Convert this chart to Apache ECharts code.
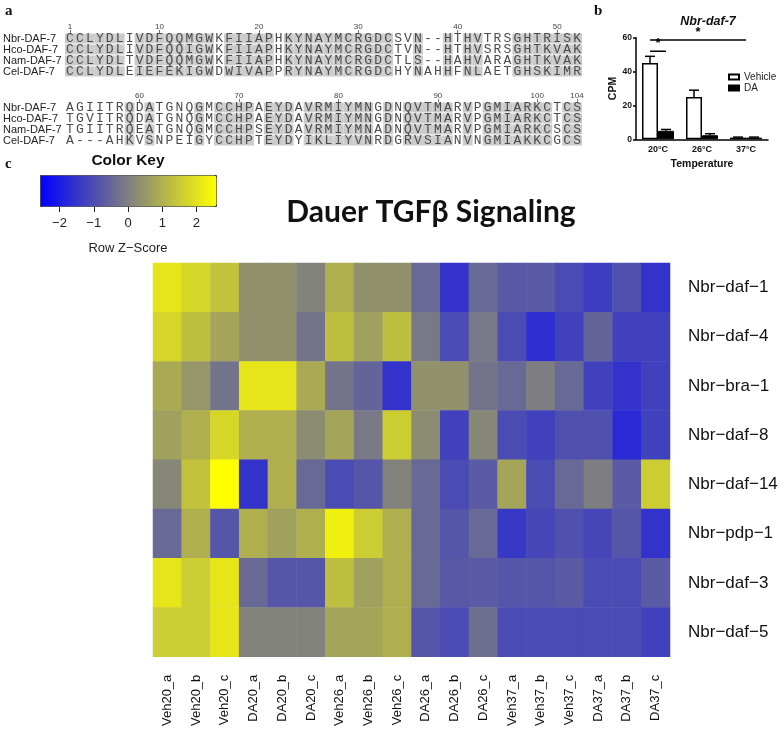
<!DOCTYPE html>
<html><head><meta charset="utf-8">
<script src="https://cdn.jsdelivr.net/npm/echarts@6/dist/echarts.min.js"></script>
<style>html,body{margin:0;padding:0;background:#fff}#c{width:784px;height:729px}</style>
</head><body><div id="c"></div>
<script>
// ---------- Panel a: alignment ----------
const alignNames = ['Nbr-DAF-7', 'Hco-DAF-7', 'Nam-DAF-7', 'Cel-DAF-7'];
const block1Seqs = [
  'CCLYDLIVDFQQMGWKFIIAPHKYNAYMCRGDCSVN--HTHVTRSGHTRISK',
  'CCLYDLIVDFQQIGWKFIIAPHKYNAYMCRGDCTVN--HTHVSRSGHTKVAK',
  'CCLYDLTVDFQQMGWKFIIAPHKYNAYMCRGDCTLS--HAHVARAGHTKVAK',
  'CCLYDLEIEFEKIGWDWIVAPPRYNAYMCRGDCHYNAHHFNLAETGHSKIMR'
];
const block2Seqs = [
  'AGIITRQDATGNQGMCCHPAEYDAVRMIYMNGDNQVTMARVPGMIARKCTCS',
  'TGVITRQDATGNQGMCCHPAEYDAVRMIYMNGDNQVTMARVPGMIARKCTCS',
  'TGIITRQEATGNQGMCCHPSEYDAVRMIYMNADNQVTMARVPGMIARKCSCS',
  'A---AHKVSNPEIGYCCHPTEYDYIKLIYVNRDGRVSIANVNGMIAKKCGCS'
];
const block1Shade = '111111' + '0' + '11111111' + '0' + '11111' + '0' + '11111111111' + '00' + '1' + '00' + '1' + '0' + '11' + '000' + '1111111';
const block2Shade = '000000' + '1' + '0' + '1' + '0000' + '1' + '0' + '1111' + '0' + '111' + '0' + '1111111' + '0' + '1' + '0' + '11111' + '0' + '1' + '0' + '1111111' + '0' + '11';
const block1Start = 1;
const block2Start = 53;
const block1Ticks = ['1', '10', '20', '30', '40', '50'];
const block2Ticks = ['60', '70', '80', '90', '100', '104'];

// ---------- Panel b: bar chart ----------
const tempLabels = ['20\u00B0C', '26\u00B0C', '37\u00B0C'];
const vehicleMean = [45, 25, 1.0];
const vehicleUpper = [49, 29, 1.3];
const daMean = [5, 2.4, 1.0];
const daUpper = [5.8, 3.3, 1.3];
const sigStartCat = [0, 0];
const sigStartSide = [-1, -1];
const sigEndCat = [0, 2];
const sigEndSide = [1, 0];
const sigY = [52, 58.6];

// ---------- Panel c: heatmap ----------
const sampleNames = ['Veh20_a','Veh20_b','Veh20_c','DA20_a','DA20_b','DA20_c','Veh26_a','Veh26_b','Veh26_c','DA26_a','DA26_b','DA26_c','Veh37_a','Veh37_b','Veh37_c','DA37_a','DA37_b','DA37_c'];
const geneNames = ['Nbr\u2212daf\u22121','Nbr\u2212daf\u22124','Nbr\u2212bra\u22121','Nbr\u2212daf\u22128','Nbr\u2212daf\u221214','Nbr\u2212pdp\u22121','Nbr\u2212daf\u22123','Nbr\u2212daf\u22125'];
const zDaf1  = [2.05, 1.75, 1.35, 0.35, 0.35, 0.05, 0.95, 0.35, 0.35, -0.45, -1.55, -0.45, -0.8, -0.75, -1.05, -1.35, -0.95, -1.55];
const zDaf4  = [1.75, 1.25, 0.75, 0.35, 0.35, -0.25, 1.25, 0.65, 1.25, -0.15, -1.05, -0.15, -1.05, -1.65, -1.25, -0.55, -1.25, -1.25];
const zBra1  = [0.85, 0.45, -0.25, 2.05, 2.05, 0.85, -0.25, -0.55, -1.55, 0.35, 0.35, -0.25, -0.45, -0.05, -0.45, -1.25, -1.55, -1.25];
const zDaf8  = [0.65, 0.95, 1.75, 0.95, 0.95, 0.25, 0.75, -0.15, 1.55, 0.25, -1.25, 0.15, -1.05, -1.25, -0.95, -0.95, -1.75, -1.25];
const zDaf14 = [0.15, 1.35, 2.57, -1.55, 0.95, -0.45, -1.05, -0.85, 0.05, -0.45, -1.05, -0.75, 0.75, -1.05, -0.45, -0.05, -0.75, 1.55];
const zPdp1  = [-0.45, 0.95, -0.85, 0.95, 0.65, 0.95, 2.27, 1.55, 0.95, -0.45, -0.85, -0.45, -1.45, -1.15, -0.95, -1.15, -0.85, -1.55];
const zDaf3  = [2.05, 1.55, 2.05, -0.45, -0.85, -0.85, 1.25, 0.65, 0.95, -0.45, -0.8, -0.75, -0.85, -0.85, -0.75, -1.05, -1.05, -0.75];
const zDaf5  = [1.55, 1.55, 2.05, 0.05, 0.05, 0.05, 0.75, 0.75, 0.95, -0.85, -1.05, -0.35, -1.05, -1.05, -1.05, -1.05, -1.05, -1.25];
const zRows = [zDaf1, zDaf4, zBra1, zDaf8, zDaf14, zPdp1, zDaf3, zDaf5];
const zMin = -2.57, zMax = 2.57;
const keyTicks = [-2, -1, 0, 1, 2];

// ---------- build ----------
const chart = echarts.init(document.getElementById('c'), null, {renderer: 'canvas'});
const FONT = '"Liberation Sans", Arial, sans-serif';

function blockItems(seqs, mask) {
  const items = [];
  seqs.forEach((s, r) => {
    for (let i = 0; i < s.length; i++) items.push([i, r, s[i], mask[i] === '1' ? 1 : 0]);
  });
  return items;
}
const b1Items = blockItems(block1Seqs, block1Shade);
const b2Items = blockItems(block2Seqs, block2Shade);
function alignRender(items) {
  return function (params, api) {
    const it = items[params.dataIndex];
    const c = api.coord([it[0], it[1]]);
    const sz = api.size([1, 1]);
    const children = [];
    if (it[3]) children.push({type: 'rect', shape: {x: c[0] - sz[0] / 2, y: c[1] - sz[1] / 2 + 0.5, width: sz[0], height: sz[1] - 1}, style: {fill: '#cbcbcb'}});
    children.push({type: 'text', style: {text: it[2], x: c[0], y: c[1] + 0.5, align: 'center', verticalAlign: 'middle', font: '13px "Liberation Mono", "Courier New", monospace', fill: '#4a4a4a'}});
    return {type: 'group', children};
  };
}
const pos1 = block1Seqs[0].split('').map((_, i) => String(block1Start + i));
const pos2 = block2Seqs[0].split('').map((_, i) => String(block2Start + i));

function alignX(gi, cats, ticks) {
  return {
    type: 'category', gridIndex: gi, data: cats, position: 'top', boundaryGap: true,
    axisLine: {show: false},
    axisTick: {show: true, alignWithLabel: true, length: 3, interval: (i, v) => ticks.includes(v), lineStyle: {color: '#777', width: 1}},
    axisLabel: {interval: (i, v) => ticks.includes(v), fontSize: 8, color: '#444', margin: 2, fontFamily: FONT},
    splitLine: {show: false}
  };
}
function alignY(gi) {
  return {
    type: 'category', gridIndex: gi, data: alignNames, inverse: true,
    axisLine: {show: false}, axisTick: {show: false},
    axisLabel: {interval: 0, fontSize: 11, color: '#222', margin: 62, align: 'left', fontFamily: FONT}
  };
}

const heatData = [];
zRows.forEach((row, r) => row.forEach((v, c) => heatData.push([c, r, v])));

const barHalf = 8;
function errRender(side) {
  return function (params, api) {
    const top = api.coord([api.value(0), api.value(1)]);
    const base = api.coord([api.value(0), api.value(2)]);
    const x = top[0] + side * barHalf;
    return {type: 'group', children: [
      {type: 'line', shape: {x1: x, y1: base[1], x2: x, y2: top[1]}, style: {stroke: '#000', lineWidth: 1.5}},
      {type: 'line', shape: {x1: x - 5, y1: top[1], x2: x + 5, y2: top[1]}, style: {stroke: '#000', lineWidth: 1.5}}
    ]};
  };
}

const option = {
  backgroundColor: '#fff',
  animation: false,
  grid: [
    {left: 62, top: 33, width: 520, height: 44},
    {left: 62, top: 102, width: 520, height: 44},
    {left: 636, top: 37.7, width: 132, height: 101.6},
    {left: 153, top: 263, width: 517, height: 394},
    {left: 40, top: 175, width: 176, height: 31}
  ],
  xAxis: [
    alignX(0, pos1, block1Ticks),
    alignX(1, pos2, block2Ticks),
    {
      type: 'category', gridIndex: 2, data: tempLabels,
      axisLine: {lineStyle: {color: '#000', width: 1.5}}, axisTick: {show: false},
      axisLabel: {fontSize: 9, fontWeight: 'bold', color: '#111', margin: 6, fontFamily: FONT},
      name: 'Temperature', nameLocation: 'middle', nameGap: 19,
      nameTextStyle: {fontSize: 10.5, fontWeight: 'bold', color: '#111', fontFamily: FONT}
    },
    {
      type: 'category', gridIndex: 3, data: sampleNames,
      axisLine: {show: false}, axisTick: {show: false}, splitLine: {show: false},
      axisLabel: {rotate: 90, fontSize: 13, color: '#111', margin: 18, fontFamily: FONT, interval: 0}
    },
    {
      type: 'value', gridIndex: 4, min: zMin, max: zMax,
      axisLine: {show: false}, splitLine: {show: false},
      axisTick: {show: true, customValues: keyTicks, length: 6, lineStyle: {color: '#222', width: 1}},
      axisLabel: {customValues: keyTicks, fontSize: 13, color: '#222', margin: 11, fontFamily: FONT,
        formatter: v => (v < 0 ? '\u2212' + Math.abs(v) : String(v))},
      name: 'Row Z\u2212Score', nameLocation: 'middle', nameGap: 36,
      nameTextStyle: {fontSize: 13, color: '#222', fontFamily: FONT}
    }
  ],
  yAxis: [
    alignY(0),
    alignY(1),
    {
      type: 'value', gridIndex: 2, min: 0, max: 60, interval: 20,
      axisLine: {show: true, lineStyle: {color: '#000', width: 1.5}},
      axisTick: {show: true, length: 3, lineStyle: {color: '#000', width: 1.5}},
      axisLabel: {fontSize: 8.5, fontWeight: 'bold', color: '#111', margin: 4, fontFamily: FONT},
      splitLine: {show: false},
      name: 'CPM', nameLocation: 'middle', nameGap: 14, nameRotate: 90,
      nameTextStyle: {fontSize: 10.5, fontWeight: 'bold', color: '#111', fontFamily: FONT}
    },
    {
      type: 'category', gridIndex: 3, data: geneNames, inverse: true, position: 'right',
      axisLine: {show: false}, axisTick: {show: false}, splitLine: {show: false},
      axisLabel: {fontSize: 17, color: '#111', margin: 18, fontFamily: FONT}
    },
    {type: 'value', gridIndex: 4, show: false, min: 0, max: 1}
  ],
  visualMap: {
    type: 'continuous', min: zMin, max: zMax, orient: 'horizontal',
    left: 40, top: 175, itemWidth: 31, itemHeight: 176,
    calculable: false, showLabel: false, text: null, hoverLink: false,
    padding: 0, borderWidth: 1, borderColor: '#333',
    seriesIndex: 2,
    inRange: {color: ['#0000ff', '#ffff00']}
  },
  legend: {
    data: ['Vehicle', 'DA'], orient: 'vertical', left: 723, top: 67,
    itemWidth: 10, itemHeight: 5, itemGap: 1, icon: 'rect',
    textStyle: {fontSize: 10, color: '#222', fontFamily: FONT}
  },
  series: [
    {type: 'custom', name: 'block1', xAxisIndex: 0, yAxisIndex: 0, data: b1Items.map(d => [d[0], d[1]]), renderItem: alignRender(b1Items), silent: true},
    {type: 'custom', name: 'block2', xAxisIndex: 1, yAxisIndex: 1, data: b2Items.map(d => [d[0], d[1]]), renderItem: alignRender(b2Items), silent: true},
    {type: 'heatmap', xAxisIndex: 3, yAxisIndex: 3, data: heatData, itemStyle: {borderWidth: 0}, emphasis: {disabled: true}, progressive: 0},
    {type: 'bar', name: 'Vehicle', xAxisIndex: 2, yAxisIndex: 2, data: vehicleMean, barWidth: 16, barGap: '0%',
      itemStyle: {color: '#fff', borderColor: '#000', borderWidth: 1.5}},
    {type: 'bar', name: 'DA', xAxisIndex: 2, yAxisIndex: 2, data: daMean, barWidth: 16, barGap: '0%',
      itemStyle: {color: '#000', borderColor: '#000', borderWidth: 1}},
    {type: 'custom', name: 'vehErr', xAxisIndex: 2, yAxisIndex: 2, data: vehicleUpper.map((u, i) => [i, u, vehicleMean[i]]), renderItem: errRender(-1), silent: true, z: 3},
    {type: 'custom', name: 'daErr', xAxisIndex: 2, yAxisIndex: 2, data: daUpper.map((u, i) => [i, u, daMean[i]]), renderItem: errRender(1), silent: true, z: 1},
    {type: 'custom', name: 'sig', xAxisIndex: 2, yAxisIndex: 2, data: sigY.map((y, i) => [sigStartCat[i], y]), silent: true,
      renderItem: function (params, api) {
        const i = params.dataIndex;
        const p1 = api.coord([sigStartCat[i], sigY[i]]);
        const p2 = api.coord([sigEndCat[i], sigY[i]]);
        const x1 = p1[0] + sigStartSide[i] * barHalf, x2 = p2[0] + sigEndSide[i] * barHalf;
        return {type: 'group', children: [
          {type: 'line', shape: {x1: x1, y1: p1[1], x2: x2, y2: p1[1]}, style: {stroke: '#000', lineWidth: 1.5}},
          {type: 'text', style: {text: '*', x: (x1 + x2) / 2, y: p1[1] - 1, align: 'center', verticalAlign: 'bottom', font: 'bold 13px ' + FONT, fill: '#000'}}
        ]};
      }}
  ],
  graphic: [
    {type: 'text', style: {text: 'a', x: 5, y: 4, font: 'bold 15px "Liberation Serif", serif', fill: '#111'}},
    {type: 'text', style: {text: 'b', x: 594, y: 4, font: 'bold 15px "Liberation Serif", serif', fill: '#111'}},
    {type: 'text', style: {text: 'c', x: 5, y: 157, font: 'bold 15px "Liberation Serif", serif', fill: '#111'}},
    {type: 'text', style: {text: 'Nbr-daf-7', x: 708, y: 22, align: 'center', verticalAlign: 'middle', font: 'italic bold 12.5px ' + FONT, fill: '#111'}},
    {type: 'text', style: {text: 'Color Key', x: 128, y: 161, align: 'center', verticalAlign: 'middle', font: 'bold 15.5px ' + FONT, fill: '#111'}},
    {type: 'text', style: {text: 'Dauer TGF\u03B2 Signaling', x: 431, y: 212, align: 'center', verticalAlign: 'middle', font: 'bold 30px Lato, "Open Sans", sans-serif', fill: '#111'}}
  ]
};
chart.setOption(option);
</script></body></html>
